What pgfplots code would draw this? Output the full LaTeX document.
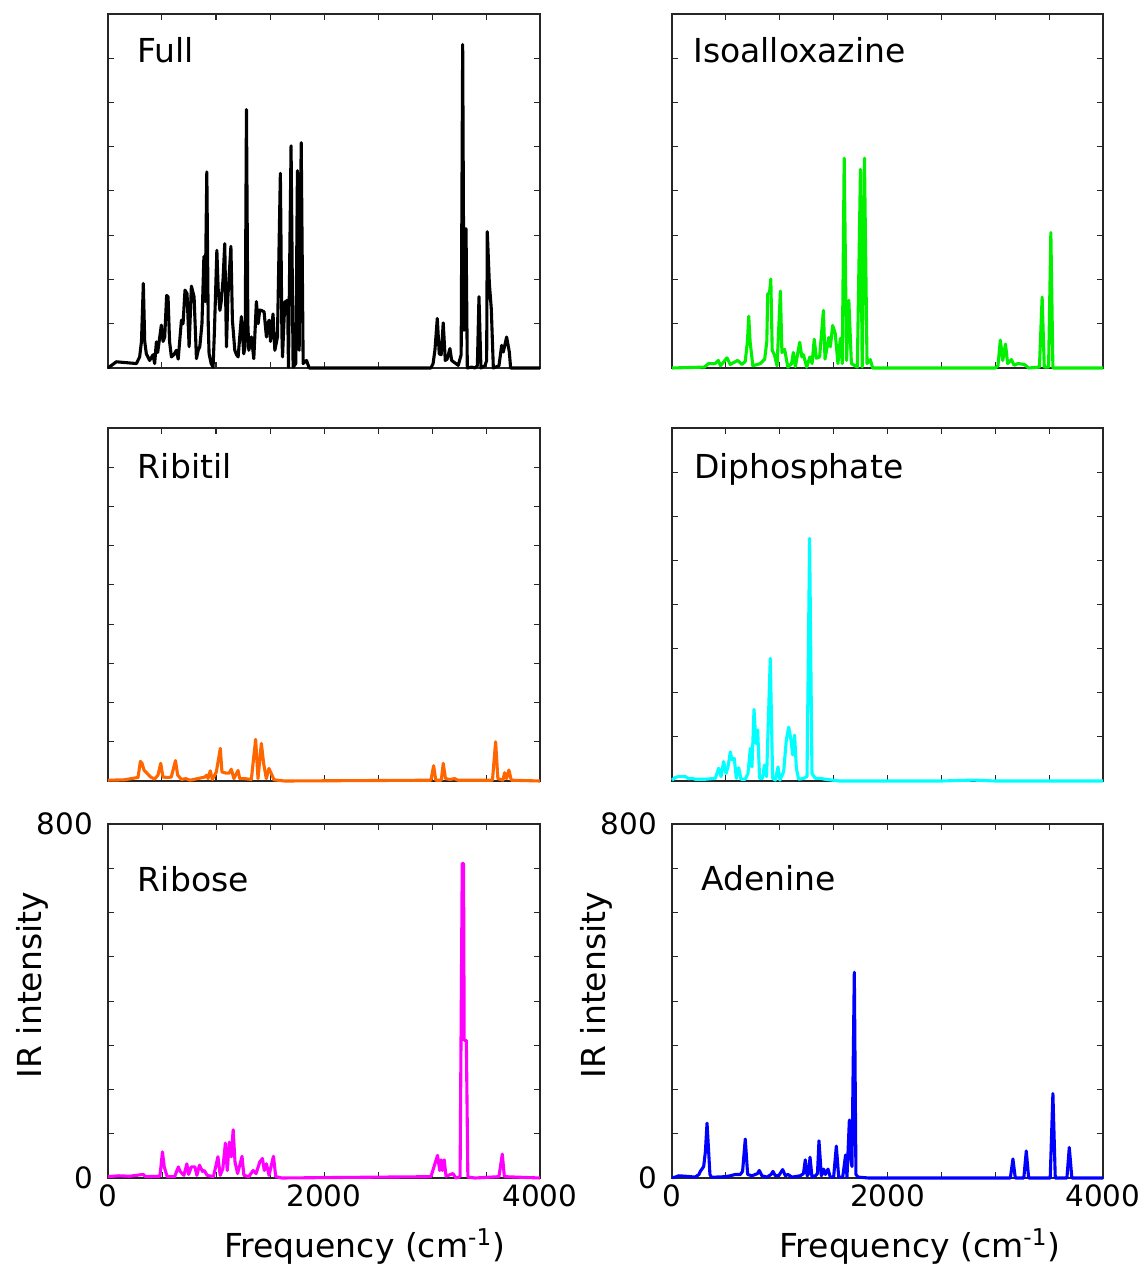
\documentclass[border=0pt]{standalone}
\usepackage{fontspec}
\setmainfont{DejaVu Sans}
\usepackage{pgfplots}
\pgfplotsset{compat=1.18}

\definecolor{cgreen}{RGB}{0,240,0}
\definecolor{corange}{RGB}{255,102,0}
\definecolor{ccyan}{RGB}{0,255,255}
\definecolor{cmag}{RGB}{255,0,255}
\definecolor{cblue}{RGB}{0,0,255}

\pgfplotsset{
  panel/.style={
    scale only axis, width=216pt, height=177pt,
    xmin=0, xmax=4000, ymin=0, ymax=800,
    xtick={0,500,...,4000}, ytick={0,100,...,800},
    xticklabels={}, yticklabels={},
    tick pos=both, tick align=inside,
    major tick length=3.2pt,
    every tick/.style={black!85, line width=0.5pt},
    axis line style={line width=0.9pt, black!85},
    ticklabel style={font=\fontsize{14.7}{17}\selectfont},
    yticklabel style={xshift=-4pt},
    label style={font=\fontsize{16.5}{19}\selectfont},
    clip=false,
    anchor=north west,
  },
  lowrow/.style={
    xticklabels={0,{},{},{},2000,{},{},{},4000},
    yticklabels={0,{},{},{},{},{},{},{},800},
    ylabel={IR intensity},
    ylabel style={at={(axis description cs:-0.154,0.545)}, anchor=base},
    xlabel={Frequency (cm\textsuperscript{-1})},
  },
  spec/.style={line width=1.55pt, line join=round},
}
\newcommand{\paneltitle}[3]{\node[anchor=base west, font=\fontsize{16.5}{19}\selectfont] at (axis description cs:#1,#2) {#3};}

\begin{document}
\begin{tikzpicture}
\useasboundingbox (0,0) rectangle (572.5pt,-634pt);

% Full
\begin{axis}[panel, at={(54pt,-7pt)}]
\addplot[spec, black] coordinates {
(0,0)(77,14)(263,10)(293,25)(310,60)(327,191)(340,60)(355,32)(386,17)(417,30)(432,10)(448,59)(460,35)
(494,97)(510,60)(525,70)(543,164)(556,161)(570,60)(587,25)(610,30)(633,40)(650,20)(680,108)(695,100)
(713,176)(732,168)(751,48)(772,185)(797,161)(819,21)(835,40)(850,48)(870,100)(888,252)(900,150)
(915,443)(928,100)(936,32)(955,10)(973,2)(985,80)(1008,266)(1020,180)(1036,130)(1050,153)(1065,200)
(1081,281)(1097,48)(1110,160)(1138,275)(1152,108)(1174,40)(1190,30)(1205,25)(1235,116)(1257,32)
(1270,50)(1282,584)(1295,100)(1304,40)(1328,70)(1350,21)(1374,150)(1390,100)(1405,131)(1421,130)
(1445,127)(1467,70)(1480,100)(1492,108)(1505,60)(1528,122)(1545,40)(1569,70)(1596,440)(1610,80)
(1616,25)(1637,149)(1663,153)(1671,2)(1695,502)(1714,2)(1739,10)(1754,446)(1770,40)(1789,509)
(1807,10)(1838,17)(1863,0)(2990,0)(3010,10)(3027,40)(3049,112)(3067,32)(3085,30)(3104,102)(3123,17)
(3140,20)(3166,44)(3182,17)(3243,6)(3270,30)(3284,731)(3296,85)(3315,315)(3327,0)(3367,2)(3398,0)
(3420,5)(3435,161)(3453,0)(3490,5)(3506,17)(3512,308)(3531,191)(3549,134)(3568,0)(3620,5)(3645,51)
(3660,36)(3691,70)(3716,36)(3728,0)(4000,0)
};
\paneltitle{0.051}{0.864}{Full}
\end{axis}

% Isoalloxazine
\begin{axis}[panel, width=215.5pt, at={(336pt,-7pt)}]
\addplot[spec, cgreen] coordinates {
(0,0)(300,2)(340,10)(400,10)(430,17)(450,5)(510,23)(540,8)(610,17)(650,8)(680,15)(700,60)(712,117)
(725,59)(750,5)(820,10)(860,20)(880,60)(888,167)(905,170)(917,201)(930,40)(950,30)(975,5)(1006,174)
(1020,35)(1045,42)(1075,2)(1110,10)(1126,35)(1145,3)(1185,58)(1205,25)(1220,30)(1250,2)(1280,25)
(1300,10)(1320,65)(1340,22)(1370,25)(1405,130)(1420,20)(1454,69)(1470,48)(1491,96)(1515,78)(1540,10)
(1562,67)(1580,10)(1598,474)(1620,17)(1641,153)(1665,10)(1720,2)(1749,449)(1765,2)(1786,474)(1810,10)
(1840,19)(1862,0)(3000,0)(3025,5)(3047,63)(3070,17)(3095,54)(3115,10)(3150,19)(3175,6)(3210,10)
(3270,8)(3310,0)(3410,2)(3435,160)(3455,2)(3495,2)(3516,306)(3535,0)(4000,0)
};
\paneltitle{0.033}{0.862}{Isoalloxazine}
\end{axis}

% Ribitil
\begin{axis}[panel, height=176.5pt, at={(54pt,-214pt)}, ymax=900, ytick={0,100,...,900}]
\addplot[spec, corange] coordinates {
(0,2)(150,3)(215,6)(278,9)(300,50)(315,45)(333,28)(364,19)(395,10)(432,5)(463,15)(488,45)(509,10)
(555,9)(586,10)(625,52)(645,15)(680,4)(720,6)(760,2)(895,10)(913,15)(926,6)(947,26)(966,4)(1003,23)
(1040,83)(1055,23)(1095,20)(1120,20)(1142,30)(1166,6)(1204,27)(1220,6)(1265,6)(1327,4)(1367,106)
(1389,6)(1420,96)(1441,45)(1466,6)(1490,32)(1512,19)(1537,3)(1635,0)(2990,2)(3015,39)(3035,2)
(3086,2)(3104,45)(3125,6)(3165,4)(3210,6)(3240,2)(3560,2)(3589,100)(3610,6)(3657,2)(3672,21)
(3690,6)(3712,28)(3734,2)(4000,0)
};
\paneltitle{0.053}{0.858}{Ribitil}
\end{axis}

% Diphosphate
\begin{axis}[panel, width=215.5pt, height=176.5pt, at={(336pt,-214pt)}]
\addplot[spec, ccyan] coordinates {
(0,2)(30,8)(60,10)(124,10)(155,5)(186,6)(216,4)(310,4)(402,6)(433,29)(455,10)(479,44)(501,17)(520,32)
(541,66)(557,48)(578,51)(597,6)(619,30)(640,4)(680,4)(705,17)(727,74)(742,32)(761,162)(780,85)
(795,116)(813,6)(841,6)(857,36)(878,10)(912,278)(934,6)(959,2)(984,32)(1002,2)(1036,21)(1061,93)
(1083,122)(1104,93)(1120,59)(1138,104)(1154,29)(1175,4)(1222,6)(1253,10)(1277,550)(1299,17)
(1330,6)(1376,6)(1420,4)(1550,0)(2500,0)(2800,2)(3000,0)(4000,0)
};
\paneltitle{0.035}{0.858}{Diphosphate}
\end{axis}

% Ribose
\begin{axis}[panel, lowrow, at={(54pt,-412pt)},
  xlabel style={at={(axis description cs:0.594,-0.226)}, anchor=base}]
\addplot[spec, cmag] coordinates {
(0,3)(100,5)(200,4)(325,8)(350,3)(480,4)(490,25)(504,59)(521,25)(548,3)(617,3)(651,25)(668,15)
(703,6)(730,32)(747,8)(771,25)(805,25)(823,6)(847,29)(874,15)(891,17)(918,6)(976,3)(1018,48)
(1039,6)(1063,21)(1087,79)(1104,17)(1124,81)(1141,48)(1159,109)(1176,36)(1200,10)(1241,49)(1258,6)
(1303,3)(1344,17)(1371,10)(1405,36)(1430,44)(1447,17)(1467,32)(1491,6)(1532,49)(1553,3)(1611,0)
(2990,3)(3051,51)(3072,17)(3085,41)(3096,17)(3113,41)(3130,4)(3194,10)(3221,0)(3260,3)(3280,711)
(3292,711)(3298,311)(3318,311)(3332,2)(3400,0)(3620,3)(3651,54)(3670,3)(4000,0)
};
\paneltitle{0.053}{0.808}{Ribose}
\end{axis}

% Adenine
\begin{axis}[panel, lowrow, width=215.5pt, at={(336pt,-412pt)},
  xlabel style={at={(axis description cs:0.575,-0.226)}, anchor=base}]
\addplot[spec, cblue] coordinates {
(0,1)(30,2)(62,5)(124,4)(216,2)(250,8)(263,15)(294,26)(310,60)(325,124)(340,60)(352,8)(365,2)(402,2)
(495,3)(541,5)(588,8)(634,8)(655,15)(680,88)(702,8)(742,5)(794,10)(810,17)(835,5)(880,2)(920,8)
(937,15)(959,5)(990,5)(1027,19)(1052,5)(1076,8)(1113,2)(1190,5)(1220,10)(1237,41)(1255,5)(1268,10)
(1281,47)(1299,2)(1330,5)(1350,10)(1364,84)(1386,5)(1407,20)(1423,8)(1448,20)(1469,2)(1500,2)
(1525,72)(1547,2)(1584,2)(1611,52)(1624,2)(1646,131)(1661,41)(1670,26)(1692,465)(1707,8)(1726,2)
(1825,0)(3140,0)(3164,43)(3186,0)(3265,0)(3288,61)(3310,0)(3510,0)(3535,191)(3557,0)(3665,0)
(3687,69)(3711,0)(4000,0)
};
\paneltitle{0.051}{0.811}{Adenine}
\end{axis}
\end{tikzpicture}
\end{document}
